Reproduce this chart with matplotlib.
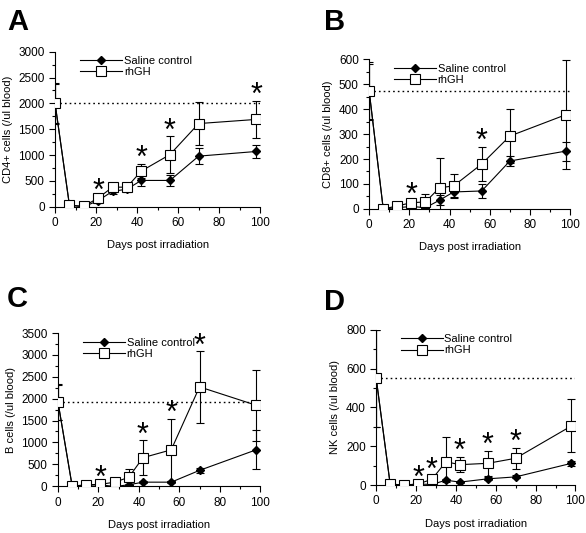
import numpy as np
import matplotlib.pyplot as plt
from matplotlib.ticker import MultipleLocator

plt.rcParams['font.family'] = ['Liberation Sans', 'DejaVu Sans']

# dias de coleta
dias = [0, 7, 14, 21, 28, 35, 42, 56, 70, 98]

# Painel A - CD4+
cd4_sal = [2000, 30, 0, 120, 300, 340, 510, 510, 980, 1070]
cd4_sal_err = [380, 20, 10, 40, 60, 50, 110, 100, 160, 130]
cd4_gh = [2000, 30, 10, 170, 380, 380, 690, 1010, 1610, 1690]
cd4_gh_err = [400, 20, 10, 40, 60, 60, 140, 360, 420, 360]
cd4_ast = [21, 42, 56, 98]

# Painel B - CD8+
cd8_sal = [472, 0, 5, 10, 5, 35, 68, 72, 192, 232]
cd8_sal_err = [110, 2, 3, 5, 10, 20, 22, 28, 20, 38]
cd8_gh = [472, 0, 12, 25, 28, 85, 92, 180, 292, 378]
cd8_gh_err = [115, 2, 5, 8, 32, 118, 48, 70, 108, 217]
cd8_ast = [21, 56]

# Painel C - células B
b_sal = [1920, 0, 20, 30, -10, 30, 90, 90, 360, 830]
b_sal_err = [400, 5, 10, 10, 20, 20, 30, 30, 60, 450]
b_gh = [1920, 0, 30, 40, 90, 200, 650, 830, 2270, 1850]
b_gh_err = [410, 5, 20, 20, 40, 200, 395, 710, 815, 810]
b_ast = [21, 42, 56, 70]

# Painel D - NK
nk_sal = [550, 5, 0, 5, 3, 25, 15, 32, 42, 112]
nk_sal_err = [250, 2, 2, 3, 3, 8, 5, 8, 8, 12]
nk_gh = [550, 5, 0, 5, 30, 120, 105, 112, 138, 305]
nk_gh_err = [250, 2, 2, 5, 20, 128, 40, 66, 54, 137]
nk_ast = [21, 28, 42, 56, 70]

paineis = [
    ('A', [0.094, 0.612, 0.350, 0.291], (0.012, 0.985), cd4_sal, cd4_sal_err, cd4_gh,
     cd4_gh_err, cd4_ast, 2000, 3000, 500, 'CD4+ cells (/ul blood)'),
    ('B', [0.630, 0.608, 0.343, 0.281], (0.553, 0.985), cd8_sal, cd8_sal_err, cd8_gh,
     cd8_gh_err, cd8_ast, 472, 600, 100, 'CD8+ cells (/ul blood)'),
    ('C', [0.099, 0.088, 0.345, 0.287], (0.012, 0.465), b_sal, b_sal_err, b_gh,
     b_gh_err, b_ast, 1920, 3500, 500, 'B cells (/ul blood)'),
    ('D', [0.642, 0.090, 0.340, 0.291], (0.553, 0.460), nk_sal, nk_sal_err, nk_gh,
     nk_gh_err, nk_ast, 550, 800, 200, 'NK cells (/ul blood)'),
]

fig = plt.figure(figsize=(5.86, 5.33), dpi=100)

for (letra, pos, pos_letra, sal, sal_err, gh, gh_err, ast, base, ymax, passo,
     ylabel) in paineis:
    ax = fig.add_axes(pos)
    ax.axhline(base, color='black', linestyle=(0, (1.2, 2.2)), linewidth=1.0)
    # barras de erro
    ax.errorbar(dias, sal, yerr=sal_err, fmt='none', ecolor='black', elinewidth=0.8,
                capsize=3, capthick=0.8, zorder=2)
    ax.errorbar(dias, gh, yerr=gh_err, fmt='none', ecolor='black', elinewidth=0.8,
                capsize=3, capthick=0.8, zorder=2)
    # linhas e marcadores
    ax.plot(dias, sal, color='black', marker='D', markersize=4.5,
            markerfacecolor='black', linewidth=0.8, label='Saline control', zorder=3)
    ax.plot(dias, gh, color='black', marker='s', markersize=7,
            markerfacecolor='white', markeredgewidth=0.8, linewidth=0.8,
            label='rhGH', zorder=4)
    # asteriscos de significância
    for d in ast:
        i = dias.index(d)
        topo = max(gh[i] + gh_err[i], sal[i] + sal_err[i])
        ax.annotate('*', (d, topo), xytext=(0, -2.5), textcoords='offset points',
                    ha='center', va='baseline', fontsize=22, annotation_clip=False)

    ax.set_xlim(0, 100)
    ax.set_ylim(0, ymax)
    ax.xaxis.set_major_locator(MultipleLocator(20))
    ax.xaxis.set_minor_locator(MultipleLocator(10))
    ax.yaxis.set_major_locator(MultipleLocator(passo))
    ax.yaxis.set_minor_locator(MultipleLocator(passo / 2))
    ax.tick_params(which='both', direction='out', labelsize=8.5, width=0.8)
    ax.tick_params(which='major', length=4)
    ax.tick_params(which='minor', length=2.5)
    for lado in ['top', 'right']:
        ax.spines[lado].set_visible(False)
    ax.set_xlabel('Days post irradiation', fontsize=8, labelpad=8)
    ax.set_ylabel(ylabel, fontsize=8)
    ax.legend(loc='upper left', bbox_to_anchor=(0.1, 1.0), frameon=False,
              fontsize=8, handlelength=3.8, handletextpad=0.15,
              labelspacing=0.1, borderaxespad=0)
    fig.text(pos_letra[0], pos_letra[1], letra, fontsize=21, fontweight='bold',
             ha='left', va='top')

fig.savefig('out.png', dpi=100)
